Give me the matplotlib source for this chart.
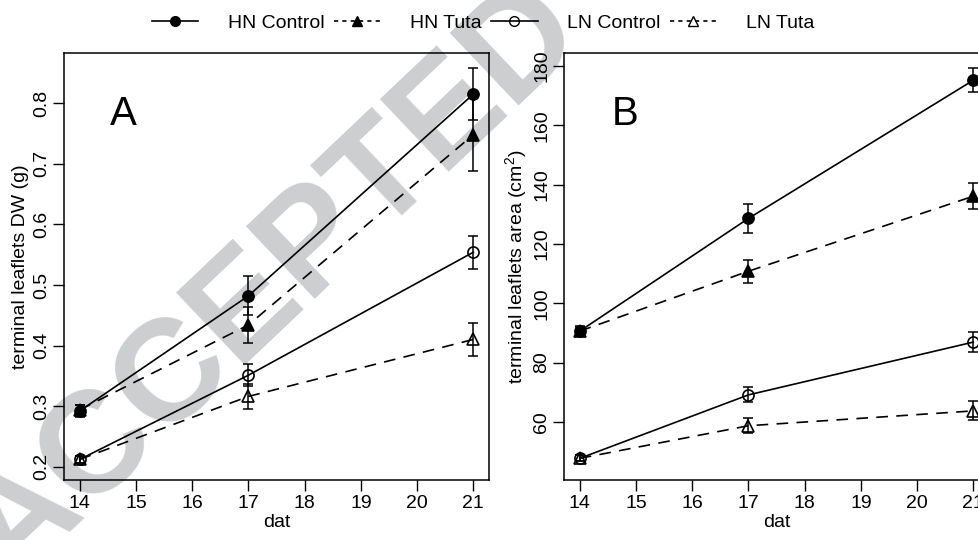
import numpy as np
import matplotlib
matplotlib.use("Agg")
import matplotlib.pyplot as plt
from matplotlib.lines import Line2D

plt.rcParams['font.family'] = ['Liberation Sans', 'DejaVu Sans']
plt.rcParams['mathtext.fontset'] = 'custom'
plt.rcParams['mathtext.rm'] = 'Liberation Sans'
plt.rcParams['mathtext.default'] = 'regular'

# days after treatment
dat = [14, 17, 21]
series = ["HN Control", "HN Tuta", "LN Control", "LN Tuta"]

# panel A: terminal leaflets dry weight (g), mean and error
dw_mean = {
    "HN Control": [0.292, 0.482, 0.815],
    "HN Tuta":    [0.294, 0.434, 0.748],
    "LN Control": [0.212, 0.351, 0.554],
    "LN Tuta":    [0.212, 0.316, 0.410],
}
dw_err = {
    "HN Control": [0.010, 0.032, 0.043],
    "HN Tuta":    [0.008, 0.029, 0.060],
    "LN Control": [0.006, 0.018, 0.027],
    "LN Tuta":    [0.006, 0.021, 0.027],
}

# panel B: terminal leaflets area (cm2), mean and error
area_mean = {
    "HN Control": [90.6, 128.6, 175.2],
    "HN Tuta":    [90.6, 110.8, 136.1],
    "LN Control": [47.7, 69.1, 86.9],
    "LN Tuta":    [47.7, 58.7, 63.7],
}
area_err = {
    "HN Control": [1.8, 4.9, 4.0],
    "HN Tuta":    [1.5, 3.8, 4.4],
    "LN Control": [1.0, 2.5, 3.5],
    "LN Tuta":    [1.0, 2.6, 3.2],
}

style = {
    "HN Control": dict(marker='o', ls='-', mfc='k', ms=8),
    "HN Tuta":    dict(marker='^', ls=(0, (7, 5)), mfc='k', ms=8),
    "LN Control": dict(marker='o', ls='-', mfc='none', ms=8),
    "LN Tuta":    dict(marker='^', ls=(0, (7, 5)), mfc='none', ms=9),
}

FS = 14

fig = plt.figure(figsize=(9.79, 5.4), dpi=100)
fig.patch.set_facecolor('white')

# watermark
fig.text(273 / 979, 1 - 283 / 540, "ACCEPTED", fontsize=104, fontweight='bold',
         color='#cdcecf', rotation=43.5, ha='center', va='center',
         rotation_mode='anchor', zorder=-1)

axA = fig.add_axes([64 / 979, 1 - 480 / 540, 425 / 979, 427 / 540])
axB = fig.add_axes([564 / 979, 1 - 480 / 540, 425 / 979, 427 / 540])

for ax, means, errs in [(axA, dw_mean, dw_err), (axB, area_mean, area_err)]:
    ax.patch.set_alpha(0)
    for s in series:
        st = style[s]
        ax.errorbar(dat, means[s], yerr=errs[s], fmt='none', ecolor='k',
                    elinewidth=1.1, capsize=3.8, capthick=1.1, zorder=2)
        ax.plot(dat, means[s], color='k', lw=1.2, ls=st['ls'],
                marker=st['marker'], ms=st['ms'], mfc=st['mfc'],
                mec='k', mew=1.2, zorder=3)
    ax.set_xlim(13.72, 21.28)
    ax.set_xticks(range(14, 22))
    ax.set_xlabel("dat", fontsize=FS, labelpad=1.5)
    ax.tick_params(direction='out', length=8, width=1, labelsize=FS)
    ax.tick_params(axis='x', pad=3)
    ax.tick_params(axis='y', pad=2)
    for sp in ax.spines.values():
        sp.set_linewidth(1.1)

axA.set_ylim(0.178, 0.883)
axA.set_yticks([0.2, 0.3, 0.4, 0.5, 0.6, 0.7, 0.8])
axA.set_ylabel("terminal leaflets DW (g)", fontsize=FS, labelpad=3)
axA.text(0.108, 0.856, "A", transform=axA.transAxes, fontsize=29,
         ha='left', va='center')

axB.set_ylim(40.4, 184.4)
axB.set_yticks([60, 80, 100, 120, 140, 160, 180])
axB.set_ylabel("terminal leaflets area (cm$^2$)", fontsize=FS, labelpad=3)
axB.text(0.113, 0.858, "B", transform=axB.transAxes, fontsize=29,
         ha='left', va='center')
plt.setp(axA.get_yticklabels(), rotation=90, va='center')
plt.setp(axB.get_yticklabels(), rotation=90, va='center')

# legend handles: short dashes like the reference key
leg_handles = [
    Line2D([], [], color='k', lw=1.2, ls='-', marker='o', ms=7, mfc='k', mec='k'),
    Line2D([], [], color='k', lw=1.2, ls=(0, (2.5, 2.5)), marker='^', ms=7, mfc='k', mec='k'),
    Line2D([], [], color='k', lw=1.2, ls='-', marker='o', ms=7, mfc='none', mec='k'),
    Line2D([], [], color='k', lw=1.2, ls=(0, (2.5, 2.5)), marker='^', ms=7, mfc='none', mec='k'),
]
fig.legend(leg_handles, series, loc='center', bbox_to_anchor=(483 / 979, 1 - 23 / 540),
           ncol=4, frameon=False, fontsize=FS, handlelength=2.4,
           handletextpad=1.5, columnspacing=0.5, borderaxespad=0, borderpad=0)

fig.savefig("out.png", dpi=100)
